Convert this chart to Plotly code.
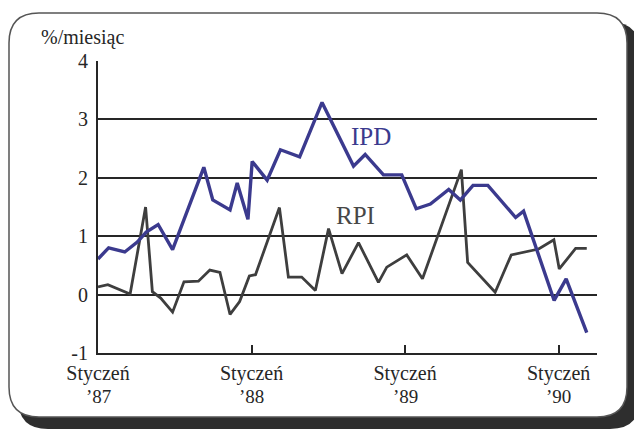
import plotly.graph_objects as go

# ---- data (months since January 1987, % per month) ----
ipd_month = [0.0, 0.83, 2.09, 3.07, 3.77, 4.70, 5.83, 8.27, 8.97, 10.32, 10.88, 11.72,
             12.05, 13.22, 14.26, 15.76, 17.51, 19.97, 20.88, 22.31, 23.74, 24.87,
             25.98, 27.41, 28.32, 29.31, 30.47, 32.64, 33.26, 35.65, 36.59, 38.20]
ipd_value = [0.61, 0.80, 0.73, 0.90, 1.07, 1.20, 0.77, 2.18, 1.62, 1.45, 1.91, 1.29,
             2.28, 1.96, 2.48, 2.36, 3.29, 2.20, 2.40, 2.05, 2.05, 1.47,
             1.55, 1.80, 1.62, 1.87, 1.87, 1.32, 1.43, -0.10, 0.27, -0.65]

rpi_month = [0.0, 0.77, 2.51, 3.72, 4.25, 4.90, 5.83, 6.72, 7.85, 8.74, 9.53, 10.32,
             11.07, 11.83, 12.31, 14.18, 14.88, 15.92, 16.99, 18.02, 19.07, 20.36,
             21.92, 22.57, 24.13, 25.36, 28.40, 28.89, 31.04, 32.30, 34.44, 35.63,
             36.05, 37.33, 38.20]
rpi_value = [0.13, 0.17, 0.01, 1.50, 0.05, -0.06, -0.30, 0.22, 0.23, 0.42, 0.38, -0.34,
             -0.12, 0.32, 0.34, 1.49, 0.30, 0.30, 0.07, 1.13, 0.36, 0.89,
             0.21, 0.47, 0.68, 0.27, 2.14, 0.55, 0.04, 0.68, 0.78, 0.94,
             0.44, 0.79, 0.79]

x_tickvals = [0, 12, 24, 36]
x_ticktext = ["Styczeń", "Styczeń", "Styczeń", "Styczeń"]
year_text = ["’87", "’88", "’89", "’90"]
y_tickvals = [-1, 0, 1, 2, 3, 4]
y_ticktext = ["-1", "0", "1", "2", "3", "4"]

# ---- styling ----
OFF = 8                      # page body margin of the html output
W, H = 642 - OFF, 432 - OFF
L, R, T, B = 98 - OFF, 45, 61 - OFF, 79
PW, PH = W - L - R, H - T - B
SERIF = "Liberation Serif"
IPD_COL = "#3b3a8e"
RPI_COL = "#3e3e3e"
INK = "#262626"


def px(xp):
    return (xp - OFF - L) / PW


def py(yp):
    return 1 - (yp - OFF - T) / PH


def rrect(x0, y0, x1, y1, r):
    def p(a, b):
        return f"{px(a):.5f},{py(b):.5f}"
    return (f"M {p(x0 + r, y0)} L {p(x1 - r, y0)} Q {p(x1, y0)} {p(x1, y0 + r)} "
            f"L {p(x1, y1 - r)} Q {p(x1, y1)} {p(x1 - r, y1)} "
            f"L {p(x0 + r, y1)} Q {p(x0, y1)} {p(x0, y1 - r)} "
            f"L {p(x0, y0 + r)} Q {p(x0, y0)} {p(x0 + r, y0)} Z")


fig = go.Figure()
fig.add_trace(go.Scatter(x=rpi_month, y=rpi_value, mode="lines", name="RPI",
                         line=dict(color=RPI_COL, width=2.8)))
fig.add_trace(go.Scatter(x=ipd_month, y=ipd_value, mode="lines", name="IPD",
                         line=dict(color=IPD_COL, width=3.4)))

shapes = [
    dict(type="path", xref="paper", yref="paper", layer="below",
         path=rrect(18, 22, 640, 429, 30), fillcolor="#2e2e2e", line=dict(width=0)),
    dict(type="path", xref="paper", yref="paper", layer="below",
         path=rrect(9, 13, 627, 417, 30), fillcolor="white",
         line=dict(color="#555555", width=1.5)),
]

annotations = [
    dict(text="%/miesiąc", xref="paper", yref="paper", x=px(39), y=py(37),
         xanchor="left", yanchor="middle", showarrow=False,
         font=dict(family=SERIF, size=20, color=INK)),
    dict(text="IPD", xref="x", yref="y", x=21.3, y=2.71, showarrow=False,
         font=dict(family=SERIF, size=25, color=IPD_COL)),
    dict(text="RPI", xref="x", yref="y", x=20.1, y=1.36, showarrow=False,
         font=dict(family=SERIF, size=25, color="#474747")),
]
for xv, yt in zip(x_tickvals, year_text):
    annotations.append(dict(text=yt, xref="x", yref="paper", x=xv, y=py(396),
                            xanchor="center", yanchor="middle", showarrow=False,
                            font=dict(family=SERIF, size=19, color=INK)))

fig.update_layout(
    width=W, height=H,
    margin=dict(l=L, r=R, t=T, b=B),
    paper_bgcolor="white",
    plot_bgcolor="rgba(0,0,0,0)",
    showlegend=False,
    font=dict(family=SERIF),
    shapes=shapes,
    annotations=annotations,
    xaxis=dict(range=[0, 39], tickvals=x_tickvals, ticktext=x_ticktext,
               showgrid=False, zeroline=False, showline=True, linecolor=INK,
               linewidth=2, ticks="inside", ticklen=8, tickwidth=1.6, tickcolor=INK,
               tickfont=dict(family=SERIF, size=20, color=INK), ticklabelstandoff=1),
    yaxis=dict(range=[-1, 4], tickvals=y_tickvals, ticktext=y_ticktext,
               showgrid=True, gridcolor=INK, gridwidth=1.6, zeroline=False,
               showline=True, linecolor=INK, linewidth=2, ticks="",
               tickfont=dict(family=SERIF, size=20, color=INK), ticklabelstandoff=4),
)

fig.write_html("out.html")
